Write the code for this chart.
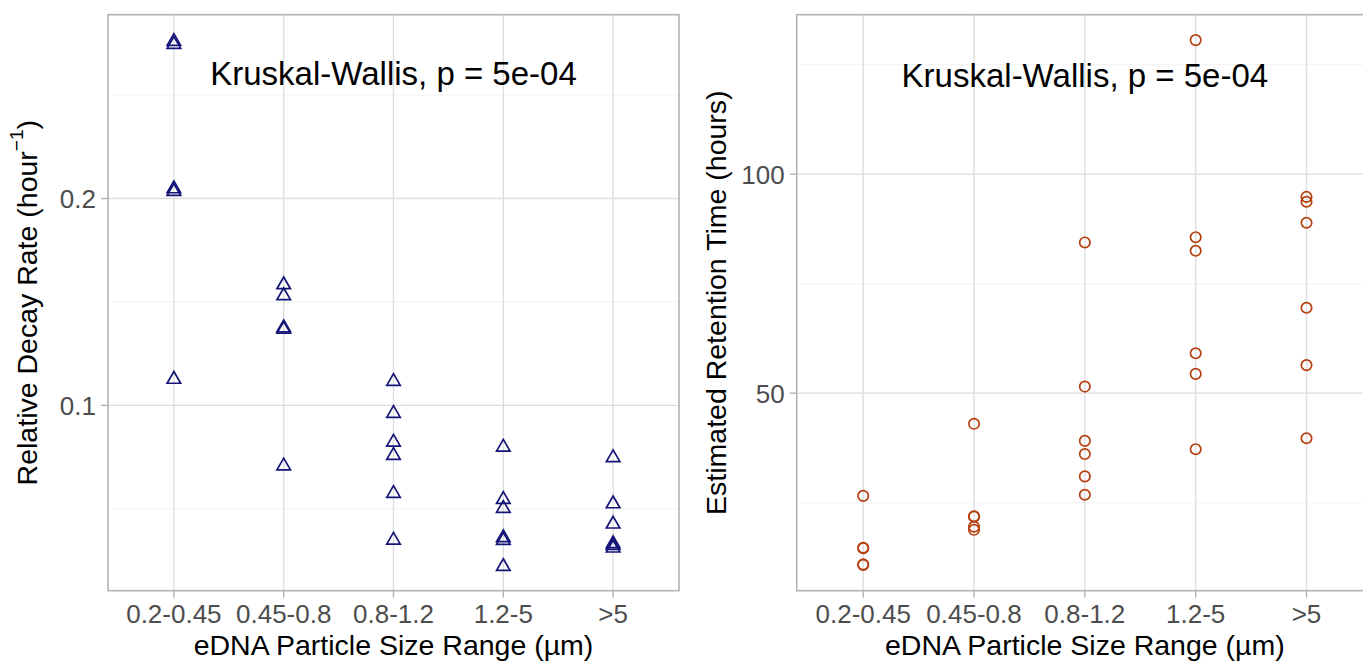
<!DOCTYPE html>
<html lang="en">
  <head>
    <meta charset="UTF-8" />
    <title>eDNA decay rate and retention time</title>
    <script src="https://d3js.org/d3.v7.min.js"></script>
    <style>
      body {
        margin: 0;
        background: #fff;
      }
      svg text {
        font-family: 'Liberation Sans', Arial, sans-serif;
      }
      .grid-major {
        stroke: #dedede;
        stroke-width: 1.4px;
      }
      .grid-minor {
        stroke: #efefef;
        stroke-width: 0.8px;
      }
      .panel-border {
        fill: none;
        stroke: #b3b3b3;
        stroke-width: 1.6px;
      }
      .tick-mark {
        stroke: #b3b3b3;
        stroke-width: 1.4px;
      }
      .tick-label {
        fill: #4d4d4d;
        font-size: 26px;
      }
      .axis-title {
        fill: #000;
        font-size: 28.5px;
      }
      .stat-label {
        fill: #000;
        font-size: 33px;
      }
    </style>
  </head>
  <body>
    <div id="chart"></div>
    <script>
      // categories on the x axis of both panels
      const sizeRanges = ['0.2-0.45', '0.45-0.8', '0.8-1.2', '1.2-5', '>5'];

      // relative decay rate (hour^-1), one array per size range
      const decayRate = [
        [0.276, 0.2745, 0.2047, 0.2034, 0.1126],
        [0.1583, 0.153, 0.1375, 0.1368, 0.0707],
        [0.1116, 0.0961, 0.0822, 0.0758, 0.0574, 0.0348],
        [0.0798, 0.0545, 0.0502, 0.036, 0.0347, 0.0221],
        [0.0747, 0.0524, 0.0426, 0.0331, 0.0323, 0.031],
      ];

      // estimated retention time (hours), one array per size range
      const retentionTime = [
        [26.55, 14.6, 14.7, 10.8, 10.9],
        [43.0, 21.8, 21.9, 19.5, 18.8],
        [84.4, 51.5, 39.1, 36.1, 31.0, 26.8],
        [130.6, 85.6, 82.5, 59.1, 54.4, 37.2],
        [94.8, 93.7, 88.9, 69.5, 56.4, 39.7],
      ];

      const decayTicks = [0.1, 0.2];
      const decayMinorTicks = [0.05, 0.15, 0.25];
      const retentionTicks = [50, 100];
      const retentionMinorTicks = [25, 75, 125];

      const statText = 'Kruskal-Wallis, p = 5e-04';

      const width = 1363;
      const height = 661;

      const svg = d3
        .select('#chart')
        .append('svg')
        .attr('width', width)
        .attr('height', height);

      function drawPanel(cfg) {
        const g = svg.append('g');

        const x = d3
          .scalePoint()
          .domain(sizeRanges)
          .range([cfg.left, cfg.right])
          .padding(0.6);

        const y = d3
          .scaleLinear()
          .domain(cfg.domain)
          .range([cfg.bottom, cfg.top]);

        // minor grid
        g.selectAll('.grid-minor')
          .data(cfg.minorTicks)
          .join('line')
          .attr('class', 'grid-minor')
          .attr('x1', cfg.left)
          .attr('x2', cfg.right)
          .attr('y1', (d) => y(d))
          .attr('y2', (d) => y(d));

        // major grid
        g.selectAll('.grid-major-y')
          .data(cfg.ticks)
          .join('line')
          .attr('class', 'grid-major')
          .attr('x1', cfg.left)
          .attr('x2', cfg.right)
          .attr('y1', (d) => y(d))
          .attr('y2', (d) => y(d));

        g.selectAll('.grid-major-x')
          .data(sizeRanges)
          .join('line')
          .attr('class', 'grid-major')
          .attr('x1', (d) => x(d))
          .attr('x2', (d) => x(d))
          .attr('y1', cfg.top)
          .attr('y2', cfg.bottom);

        // points
        const points = cfg.values.flatMap((vals, i) =>
          vals.map((v) => ({ cat: sizeRanges[i], v }))
        );

        if (cfg.shape === 'triangle') {
          const tri = d3.symbol(d3.symbolTriangle, 79);
          g.selectAll('.pt')
            .data(points)
            .join('path')
            .attr('d', tri)
            .attr('transform', (d) => `translate(${x(d.cat)},${y(d.v)})`)
            .attr('fill', 'none')
            .attr('stroke', cfg.color)
            .attr('stroke-width', 1.7);
        } else {
          g.selectAll('.pt')
            .data(points)
            .join('circle')
            .attr('cx', (d) => x(d.cat))
            .attr('cy', (d) => y(d.v))
            .attr('r', 5.2)
            .attr('fill', 'none')
            .attr('stroke', cfg.color)
            .attr('stroke-width', 1.7);
        }

        // panel border
        g.append('rect')
          .attr('class', 'panel-border')
          .attr('x', cfg.left)
          .attr('y', cfg.top)
          .attr('width', cfg.right - cfg.left)
          .attr('height', cfg.bottom - cfg.top);

        // y axis ticks and labels
        g.selectAll('.ytick')
          .data(cfg.ticks)
          .join('line')
          .attr('class', 'tick-mark')
          .attr('x1', cfg.left - 7)
          .attr('x2', cfg.left)
          .attr('y1', (d) => y(d))
          .attr('y2', (d) => y(d));

        g.selectAll('.ylabel')
          .data(cfg.ticks)
          .join('text')
          .attr('class', 'tick-label')
          .attr('x', cfg.left - 12)
          .attr('y', (d) => y(d))
          .attr('dy', '0.36em')
          .attr('text-anchor', 'end')
          .text(cfg.tickFormat);

        // x axis ticks and labels
        g.selectAll('.xtick')
          .data(sizeRanges)
          .join('line')
          .attr('class', 'tick-mark')
          .attr('x1', (d) => x(d))
          .attr('x2', (d) => x(d))
          .attr('y1', cfg.bottom)
          .attr('y2', cfg.bottom + 7);

        g.selectAll('.xlabel')
          .data(sizeRanges)
          .join('text')
          .attr('class', 'tick-label')
          .attr('x', (d) => x(d))
          .attr('y', cfg.bottom + 32)
          .attr('text-anchor', 'middle')
          .text((d) => d);

        // axis titles
        g.append('text')
          .attr('class', 'axis-title')
          .attr('x', (cfg.left + cfg.right) / 2)
          .attr('y', cfg.bottom + 64)
          .attr('text-anchor', 'middle')
          .text('eDNA Particle Size Range (µm)');

        const yTitle = g
          .append('text')
          .attr('class', 'axis-title')
          .attr('text-anchor', 'middle')
          .attr(
            'transform',
            `translate(${cfg.left - 71},${(cfg.top + cfg.bottom) / 2}) rotate(-90)`
          );
        cfg.yTitle(yTitle);

        // Kruskal-Wallis label
        g.append('text')
          .attr('class', 'stat-label')
          .attr('x', x(sizeRanges[2]))
          .attr('y', y(cfg.statY))
          .attr('text-anchor', 'middle')
          .text(statText);
      }

      drawPanel({
        left: 108,
        right: 679,
        top: 14.7,
        bottom: 590.7,
        domain: [0.0104, 0.2889],
        ticks: decayTicks,
        minorTicks: decayMinorTicks,
        tickFormat: d3.format('.1f'),
        values: decayRate,
        shape: 'triangle',
        color: '#141478',
        statY: 0.2549,
        yTitle: (t) => {
          t.append('tspan').text('Relative Decay Rate (hour');
          t.append('tspan')
            .attr('font-size', '19px')
            .attr('dy', '-0.75em')
            .text('\u22121');
          t.append('tspan').attr('dy', '0.5em').text(')');
        },
      });

      drawPanel({
        left: 796.7,
        right: 1373,
        top: 14.7,
        bottom: 590.7,
        domain: [4.9, 136.4],
        ticks: retentionTicks,
        minorTicks: retentionMinorTicks,
        tickFormat: d3.format('d'),
        values: retentionTime,
        shape: 'circle',
        color: '#b5400f',
        statY: 119.8,
        yTitle: (t) => t.text('Estimated Retention Time (hours)'),
      });
    </script>
  </body>
</html>
